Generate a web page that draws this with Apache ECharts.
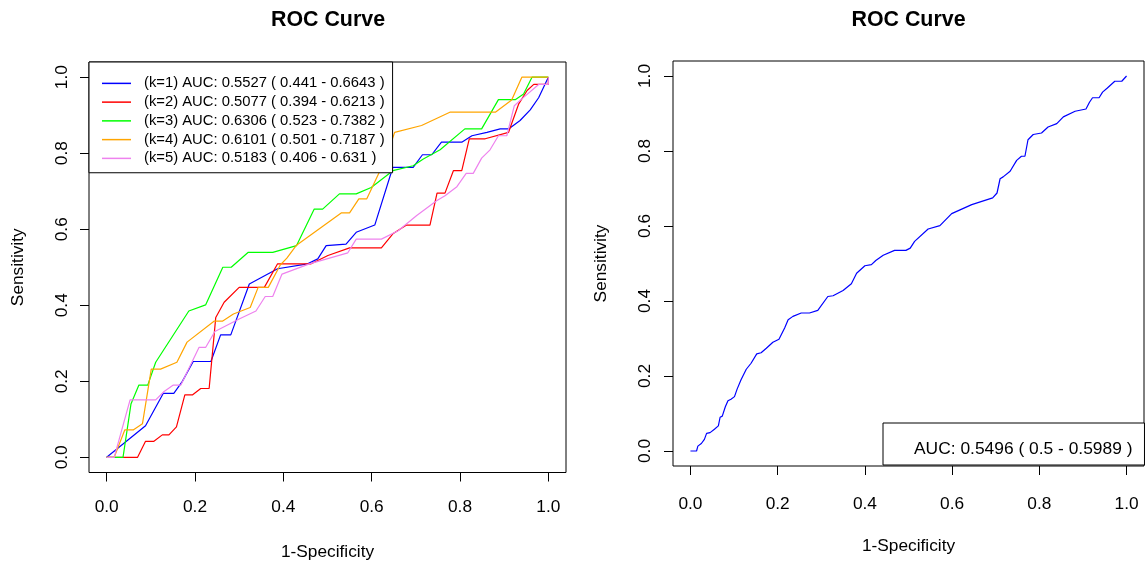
<!DOCTYPE html>
<html><head><meta charset="utf-8">
<script src="https://cdn.jsdelivr.net/npm/echarts@6/dist/echarts.min.js"></script>
<style>html,body{margin:0;padding:0;background:#fff}#c{width:1146px;height:567px}</style>
</head><body><div id="c"></div>
<script>
const FONT = "'Liberation Sans', Arial, Helvetica, sans-serif";
const tickValues = [0, 0.2, 0.4, 0.6, 0.8, 1.0];
const tickLabels = ['0.0', '0.2', '0.4', '0.6', '0.8', '1.0'];
const panelTitles = ['ROC Curve', 'ROC Curve'];
const xTitle = '1-Specificity';
const yTitle = 'Sensitivity';

const leftNames = [
  '(k=1) AUC: 0.5527 ( 0.441 - 0.6643 )',
  '(k=2) AUC: 0.5077 ( 0.394 - 0.6213 )',
  '(k=3) AUC: 0.6306 ( 0.523 - 0.7382 )',
  '(k=4) AUC: 0.6101 ( 0.501 - 0.7187 )',
  '(k=5) AUC: 0.5183 ( 0.406 - 0.631 )'
];
const leftColors = ['#0000FF', '#FF0000', '#00FF00', '#FFA500', '#EE82EE'];
const rightName = 'AUC: 0.5496 ( 0.5 - 0.5989 )';
const rightColor = '#0000FF';

// [1-specificity, sensitivity]
const k1 = [[0,0],[0.088,0.083],[0.128,0.168],[0.152,0.168],[0.171,0.199],[0.196,0.252],[0.236,0.252],[0.258,0.322],[0.281,0.322],[0.323,0.456],[0.387,0.496],[0.455,0.509],[0.478,0.522],[0.497,0.557],[0.542,0.561],[0.565,0.592],[0.607,0.611],[0.648,0.763],[0.694,0.763],[0.715,0.796],[0.736,0.796],[0.758,0.829],[0.804,0.829],[0.827,0.846],[0.861,0.855],[0.891,0.864],[0.91,0.864],[0.936,0.886],[0.959,0.914],[0.978,0.946],[1,1]];
const k2 = [[0,0],[0.07,0],[0.088,0.042],[0.107,0.042],[0.126,0.059],[0.141,0.059],[0.158,0.08],[0.177,0.164],[0.194,0.164],[0.213,0.181],[0.232,0.181],[0.247,0.368],[0.266,0.408],[0.3,0.447],[0.357,0.447],[0.387,0.509],[0.463,0.509],[0.501,0.531],[0.55,0.551],[0.622,0.551],[0.648,0.588],[0.679,0.611],[0.732,0.611],[0.748,0.695],[0.766,0.695],[0.785,0.754],[0.804,0.754],[0.821,0.838],[0.857,0.838],[0.91,0.855],[0.933,0.93],[0.952,0.965],[0.967,0.981],[1,0.981],[1,1]];
const k3 = [[0,0],[0.037,0],[0.055,0.14],[0.073,0.19],[0.093,0.19],[0.111,0.25],[0.186,0.385],[0.224,0.401],[0.263,0.5],[0.282,0.5],[0.32,0.539],[0.376,0.539],[0.43,0.557],[0.47,0.653],[0.489,0.653],[0.527,0.693],[0.565,0.693],[0.599,0.71],[0.648,0.754],[0.694,0.767],[0.717,0.785],[0.755,0.809],[0.811,0.864],[0.849,0.864],[0.887,0.941],[0.925,0.941],[0.944,0.956],[0.963,1],[1,1]];
const k4 = [[0,0],[0.017,0],[0.041,0.072],[0.06,0.072],[0.081,0.088],[0.101,0.232],[0.122,0.232],[0.159,0.25],[0.182,0.303],[0.243,0.358],[0.262,0.358],[0.287,0.377],[0.325,0.394],[0.343,0.447],[0.366,0.447],[0.393,0.506],[0.408,0.524],[0.429,0.557],[0.531,0.643],[0.55,0.643],[0.571,0.68],[0.589,0.68],[0.633,0.789],[0.652,0.855],[0.713,0.873],[0.777,0.908],[0.88,0.908],[0.917,0.94],[0.94,1],[1,1]];
const k5 = [[0,0],[0.017,0],[0.053,0.151],[0.111,0.151],[0.13,0.173],[0.151,0.19],[0.168,0.19],[0.209,0.289],[0.224,0.289],[0.245,0.331],[0.3,0.364],[0.338,0.385],[0.359,0.423],[0.376,0.423],[0.397,0.482],[0.459,0.509],[0.546,0.538],[0.565,0.574],[0.622,0.574],[0.66,0.596],[0.702,0.636],[0.747,0.675],[0.766,0.688],[0.793,0.712],[0.814,0.747],[0.83,0.747],[0.849,0.787],[0.868,0.809],[0.887,0.846],[0.906,0.846],[0.923,0.925],[0.94,0.943],[0.978,0.981],[1,0.981],[1,1]];
const overall = [[0,0],[0.014,0],[0.017,0.013],[0.025,0.02],[0.032,0.031],[0.037,0.047],[0.045,0.049],[0.055,0.058],[0.064,0.067],[0.068,0.09],[0.073,0.093],[0.08,0.118],[0.086,0.134],[0.093,0.138],[0.101,0.145],[0.107,0.165],[0.116,0.19],[0.128,0.218],[0.139,0.234],[0.152,0.259],[0.162,0.262],[0.174,0.274],[0.189,0.29],[0.203,0.298],[0.216,0.328],[0.224,0.35],[0.235,0.359],[0.254,0.368],[0.273,0.368],[0.292,0.375],[0.315,0.412],[0.327,0.414],[0.35,0.428],[0.369,0.446],[0.381,0.474],[0.4,0.494],[0.415,0.497],[0.425,0.508],[0.442,0.522],[0.468,0.535],[0.494,0.535],[0.504,0.541],[0.514,0.559],[0.545,0.592],[0.572,0.601],[0.599,0.633],[0.645,0.657],[0.693,0.675],[0.703,0.688],[0.71,0.726],[0.717,0.731],[0.733,0.746],[0.748,0.775],[0.759,0.786],[0.767,0.786],[0.774,0.83],[0.786,0.844],[0.805,0.848],[0.82,0.864],[0.84,0.873],[0.855,0.891],[0.882,0.906],[0.907,0.912],[0.915,0.93],[0.922,0.942],[0.937,0.942],[0.945,0.957],[0.956,0.968],[0.973,0.986],[0.989,0.986],[1,1]];
const leftCurves = [k1, k2, k3, k4, k5];

const TXT = '#000';
function fmt(v) {
  for (let i = 0; i < tickValues.length; i++) if (Math.abs(v - tickValues[i]) < 1e-9) return tickLabels[i];
  return '';
}
function xAxis(gi, labelMargin, nameGap) {
  return {
    type: 'value', gridIndex: gi, min: -0.04, max: 1.04,
    axisLine: { show: false, onZero: false },
    axisTick: { show: true, inside: false, length: 9, customValues: tickValues, lineStyle: { color: '#000', width: 1 } },
    axisLabel: { show: true, customValues: tickValues, formatter: fmt, margin: labelMargin, fontFamily: FONT, fontSize: 17.3, color: TXT },
    splitLine: { show: false },
    name: xTitle, nameLocation: 'middle', nameGap: nameGap,
    nameTextStyle: { fontFamily: FONT, fontSize: 17.3, color: TXT }
  };
}
function yAxis(gi, labelMargin, nameGap) {
  return {
    type: 'value', gridIndex: gi, min: -0.04, max: 1.04,
    axisLine: { show: false, onZero: false },
    axisTick: { show: true, inside: false, length: 9, customValues: tickValues, lineStyle: { color: '#000', width: 1 } },
    axisLabel: { show: true, customValues: tickValues, formatter: fmt, rotate: 90, margin: labelMargin, fontFamily: FONT, fontSize: 17.3, color: TXT },
    splitLine: { show: false },
    name: yTitle, nameLocation: 'middle', nameGap: nameGap,
    nameTextStyle: { fontFamily: FONT, fontSize: 17.3, color: TXT }
  };
}

const series = leftCurves.map((d, i) => ({
  name: leftNames[i], type: 'line', xAxisIndex: 0, yAxisIndex: 0,
  data: d, symbol: 'none', showSymbol: false, animation: false,
  lineStyle: { color: leftColors[i], width: 1.2 }, itemStyle: { color: leftColors[i] }, z: 2 + i * 0.01
}));
series.push({
  name: rightName, type: 'line', xAxisIndex: 1, yAxisIndex: 1,
  data: overall, symbol: 'none', showSymbol: false, animation: false,
  lineStyle: { color: rightColor, width: 1.2 }, itemStyle: { color: rightColor }
});

const chart = echarts.init(document.getElementById('c'), null, { renderer: 'canvas' });
chart.setOption({
  animation: false,
  backgroundColor: '#fff',
  title: [
    { text: panelTitles[0], left: 328, top: 10, textAlign: 'center', padding: 0, textStyle: { fontFamily: FONT, fontSize: 21.4, fontWeight: 'bold', color: TXT } },
    { text: panelTitles[1], left: 908.5, top: 10, textAlign: 'center', padding: 0, textStyle: { fontFamily: FONT, fontSize: 21.4, fontWeight: 'bold', color: TXT } }
  ],
  grid: [
    { left: 89, top: 62, width: 477, height: 410.5, show: true, borderColor: '#000', borderWidth: 1, backgroundColor: 'transparent', containLabel: false },
    { left: 673, top: 61, width: 471, height: 405, show: true, borderColor: '#000', borderWidth: 1, backgroundColor: 'transparent', containLabel: false }
  ],
  xAxis: [xAxis(0, 26, 71), xAxis(1, 30, 72)],
  yAxis: [yAxis(0, 18, 62), yAxis(1, 19, 63)],
  legend: [
    {
      data: leftNames, orient: 'vertical', left: 89, top: 62,
      icon: 'rect', itemWidth: 29, itemHeight: 1.5, itemGap: 0,
      padding: [12, 8, 5, 13],
      backgroundColor: '#fff', borderColor: '#000', borderWidth: 1, borderRadius: 0,
      selectedMode: false,
      textStyle: { fontFamily: FONT, fontSize: 14.8, color: TXT, lineHeight: 18.75, padding: [0, 0, 0, 8] }
    },
    {
      data: [{ name: rightName, itemStyle: { color: 'rgba(0,0,0,0)', opacity: 0 } }],
      orient: 'vertical', left: 883, top: 423,
      icon: 'rect', itemWidth: 20, itemHeight: 2, itemGap: 0,
      padding: [16, 12, 5, 6],
      backgroundColor: '#fff', borderColor: '#000', borderWidth: 1, borderRadius: 0,
      selectedMode: false,
      textStyle: { fontFamily: FONT, fontSize: 17.4, color: TXT, lineHeight: 21 }
    }
  ],
  series: series
});
</script>
</body></html>
